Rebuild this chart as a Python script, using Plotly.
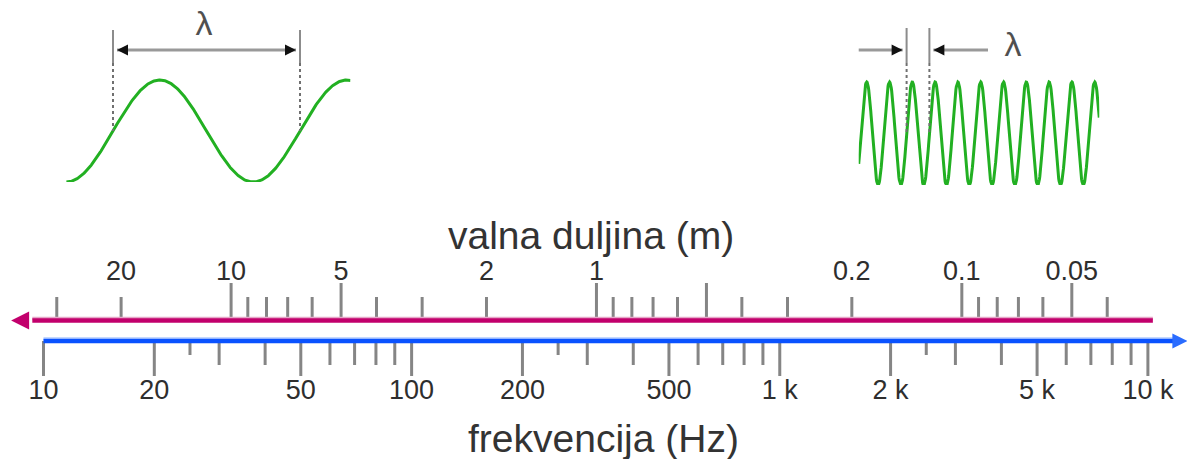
import numpy as np
import plotly.graph_objects as go

W, H = 1187, 459

# ---------------- data ----------------
FREQ_MAJOR = [10, 20, 50, 100, 200, 500, 1000, 2000, 5000, 10000]
FREQ_LABELS = ["10", "20", "50", "100", "200", "500", "1 k", "2 k", "5 k", "10 k"]
FREQ_MINOR = [30, 40, 60, 70, 80, 90, 300, 400, 600, 700, 800, 900,
              3000, 4000, 6000, 7000, 8000, 9000]
FREQ_SHORT = [25, 250, 2500]
FREQ_LINE = [10, 11900]
FREQ_ARROW_TIP = [12800]

WL_LONG = [10, 5, 1, 0.5, 0.1, 0.05]
WL_MINOR = [30, 20, 9, 8, 7, 6, 4, 3, 2, 0.9, 0.8, 0.7, 0.6, 0.4, 0.3, 0.2,
            0.09, 0.08, 0.07, 0.06, 0.04]
WL_LABEL_VALUES = [20, 10, 5, 2, 1, 0.2, 0.1, 0.05]
WL_LABELS = ["20", "10", "5", "2", "1", "0.2", "0.1", "0.05"]
WL_LINE = [35, 0.03]
WL_ARROW_TIP = [40]

LONG_WAVE_CYCLES = [-0.25, 1.27]
SHORT_WAVE_CYCLES = [-0.1, 10.45]
LONG_WAVE_MARKS = [0, 1]
SHORT_WAVE_MARKS = [2, 3]

# ---------------- layout constants (pixels) ----------------
FREQ_RANGE = [0.8819, 4.1062]      # log10 Hz at left/right edge
WL_RANGE = [1.6325, -1.6163]       # log10 m at left/right edge (reversed)
Y_WL = 320.5
Y_FREQ = 341.0
TICK_COL = "#858585"
TXT_COL = "#2e2e2e"
FONT = "Liberation Sans, Arial, sans-serif"
MAGENTA = "#c2006c"
BLUE = "#0a52ff"
GREEN = "#22b022"

fig = go.Figure()


def segs(xs, y0, y1):
    X, Y = [], []
    for x in xs:
        X += [x, x, None]
        Y += [y0, y1, None]
    return X, Y


def add_ticks(xs, y0, y1, xaxis):
    X, Y = segs(xs, y0, y1)
    fig.add_trace(go.Scatter(x=X, y=Y, mode="lines", xaxis=xaxis, yaxis="y",
                             line=dict(color=TICK_COL, width=3), hoverinfo="skip"))


# frequency ticks (below blue line)
add_ticks(FREQ_MAJOR, Y_FREQ, 376, "x")
add_ticks(FREQ_MINOR, Y_FREQ, 365, "x")
add_ticks(FREQ_SHORT, Y_FREQ, 355, "x")
# wavelength ticks (above magenta line)
add_ticks(WL_LONG, Y_WL, 283, "x2")
add_ticks(WL_MINOR, Y_WL, 297, "x2")

# magenta wavelength line with arrow to the left
fig.add_trace(go.Scatter(x=WL_LINE, y=[Y_WL - 2.2] * 2, mode="lines", xaxis="x2", yaxis="y",
                         line=dict(color="#e6a6c8", width=3), hoverinfo="skip"))
fig.add_trace(go.Scatter(x=WL_LINE, y=[Y_WL] * 2, mode="lines", xaxis="x2", yaxis="y",
                         line=dict(color=MAGENTA, width=4.5), hoverinfo="skip"))
fig.add_trace(go.Scatter(x=WL_ARROW_TIP, y=[Y_WL], mode="markers", xaxis="x2", yaxis="y",
                         marker=dict(symbol="arrow-left", size=18, color=MAGENTA,
                                     line=dict(width=0)), hoverinfo="skip"))

# blue frequency line with arrow to the right
fig.add_trace(go.Scatter(x=FREQ_LINE, y=[Y_FREQ - 2.4] * 2, mode="lines", xaxis="x", yaxis="y",
                         line=dict(color="#c4d8ff", width=3), hoverinfo="skip"))
fig.add_trace(go.Scatter(x=FREQ_LINE, y=[Y_FREQ] * 2, mode="lines", xaxis="x", yaxis="y",
                         line=dict(color=BLUE, width=4.6), hoverinfo="skip"))
fig.add_trace(go.Scatter(x=FREQ_ARROW_TIP, y=[Y_FREQ], mode="markers", xaxis="x", yaxis="y",
                         marker=dict(symbol="arrow-right", size=15, color="#2a6cff",
                                     line=dict(width=0)), hoverinfo="skip"))

# tick labels
fig.add_trace(go.Scatter(x=FREQ_MAJOR, y=[392] * len(FREQ_MAJOR), mode="text",
                         text=FREQ_LABELS, xaxis="x", yaxis="y",
                         textfont=dict(family=FONT, size=27, color=TXT_COL), hoverinfo="skip"))
fig.add_trace(go.Scatter(x=WL_LABEL_VALUES, y=[273] * len(WL_LABEL_VALUES), mode="text",
                         text=WL_LABELS, xaxis="x2", yaxis="y",
                         textfont=dict(family=FONT, size=27, color=TXT_COL), hoverinfo="skip"))

# ---------------- wave panels ----------------
PANELS = [
    dict(ax="3", cycles=LONG_WAVE_CYCLES, marks=LONG_WAVE_MARKS, origin=113, period=187,
         center=131, amp=51, top=6, vtop=30, vsolid=63, dim_y=50, gap=4,
         outside=False, lam=(204, 26)),
    dict(ax="4", cycles=SHORT_WAVE_CYCLES, marks=SHORT_WAVE_MARKS, origin=861, period=22.8,
         center=133.5, amp=51.5, top=6, vtop=28, vsolid=63, dim_y=50, gap=4,
         outside=True, out_left=845, out_right=988, lam=(1013, 47)),
]

layout_axes = {}
for p in PANELS:
    xa, ya = "x" + p["ax"], "y" + p["ax"]
    yv = lambda px, p=p: (p["center"] - px) / p["amp"]
    xc = lambda px, p=p: (px - p["origin"]) / p["period"]
    c0, c1 = p["cycles"]
    left_px = p["origin"] + c0 * p["period"]
    right_px = p["origin"] + c1 * p["period"]
    bottom_px = p["center"] + p["amp"]
    layout_axes["xaxis" + p["ax"]] = dict(domain=[left_px / W, right_px / W], range=[c0, c1],
                                          visible=False, anchor=ya, fixedrange=True)
    layout_axes["yaxis" + p["ax"]] = dict(domain=[1 - bottom_px / H, 1 - p["top"] / H],
                                          range=[-1, yv(p["top"])], visible=False,
                                          anchor=xa, fixedrange=True)

    cyc = np.linspace(c0, c1, 600)
    fig.add_trace(go.Scatter(x=cyc, y=np.sin(2 * np.pi * cyc), mode="lines",
                             xaxis=xa, yaxis=ya, line=dict(color=GREEN, width=3),
                             hoverinfo="skip", cliponaxis=False))

    m0, m1 = p["marks"]
    # vertical marker lines: solid top part + dashed part down to wave
    X, Y = segs([m0, m1], yv(p["vtop"]), yv(p["vsolid"]))
    fig.add_trace(go.Scatter(x=X, y=Y, mode="lines", xaxis=xa, yaxis=ya,
                             line=dict(color="#8c8c8c", width=2), hoverinfo="skip"))
    X, Y = segs([m0, m1], yv(p["vsolid"]), 0)
    fig.add_trace(go.Scatter(x=X, y=Y, mode="lines", xaxis=xa, yaxis=ya,
                             line=dict(color="#707070", width=2, dash="3px,3px"),
                             hoverinfo="skip"))

    g = p["gap"] / p["period"]
    dy = yv(p["dim_y"])
    if not p["outside"]:
        fig.add_trace(go.Scatter(x=[m0 + g, m1 - g], y=[dy, dy], mode="lines",
                                 xaxis=xa, yaxis=ya, line=dict(color="#999999", width=3),
                                 hoverinfo="skip"))
        fig.add_trace(go.Scatter(x=[m0 + g, m1 - g], y=[dy, dy], mode="markers",
                                 xaxis=xa, yaxis=ya,
                                 marker=dict(symbol=["arrow-left", "arrow-right"], size=11,
                                             color="#111111", line=dict(width=0)),
                                 hoverinfo="skip"))
    else:
        fig.add_trace(go.Scatter(x=[xc(p["out_left"]), m0 - g, None, m1 + g, xc(p["out_right"])],
                                 y=[dy, dy, None, dy, dy], mode="lines",
                                 xaxis=xa, yaxis=ya, line=dict(color="#999999", width=3),
                                 hoverinfo="skip", cliponaxis=False))
        fig.add_trace(go.Scatter(x=[m0 - g, m1 + g], y=[dy, dy], mode="markers",
                                 xaxis=xa, yaxis=ya,
                                 marker=dict(symbol=["arrow-right", "arrow-left"], size=11,
                                             color="#111111", line=dict(width=0)),
                                 hoverinfo="skip"))
    lx, ly = p["lam"]
    fig.add_trace(go.Scatter(x=[xc(lx)], y=[yv(ly)], mode="text", text=["λ"],
                             xaxis=xa, yaxis=ya, cliponaxis=False,
                             textfont=dict(family=FONT, size=34, color="#505050"),
                             hoverinfo="skip"))

# ---------------- titles ----------------
fig.add_annotation(text="valna duljina (m)", x=591 / W, xref="paper", y=235, yref="y",
                   showarrow=False, xanchor="center", yanchor="middle",
                   font=dict(family=FONT, size=39, color="#333333"))
fig.add_annotation(text="frekvencija (Hz)", x=603.5 / W, xref="paper", y=438, yref="y",
                   showarrow=False, xanchor="center", yanchor="middle",
                   font=dict(family=FONT, size=39, color="#333333"))

fig.update_layout(
    width=W, height=H,
    margin=dict(l=0, r=0, t=0, b=0),
    paper_bgcolor="white", plot_bgcolor="white",
    showlegend=False,
    xaxis=dict(type="log", range=FREQ_RANGE, visible=False, domain=[0, 1],
               anchor="y", fixedrange=True),
    xaxis2=dict(type="log", range=WL_RANGE, visible=False, overlaying="x",
                anchor="y", fixedrange=True),
    yaxis=dict(range=[H, 0], visible=False, domain=[0, 1], fixedrange=True),
    **layout_axes,
)

fig.write_html("out.html", config={"displayModeBar": False},
               post_script="document.body.style.margin='0';document.body.style.overflow='hidden';")
